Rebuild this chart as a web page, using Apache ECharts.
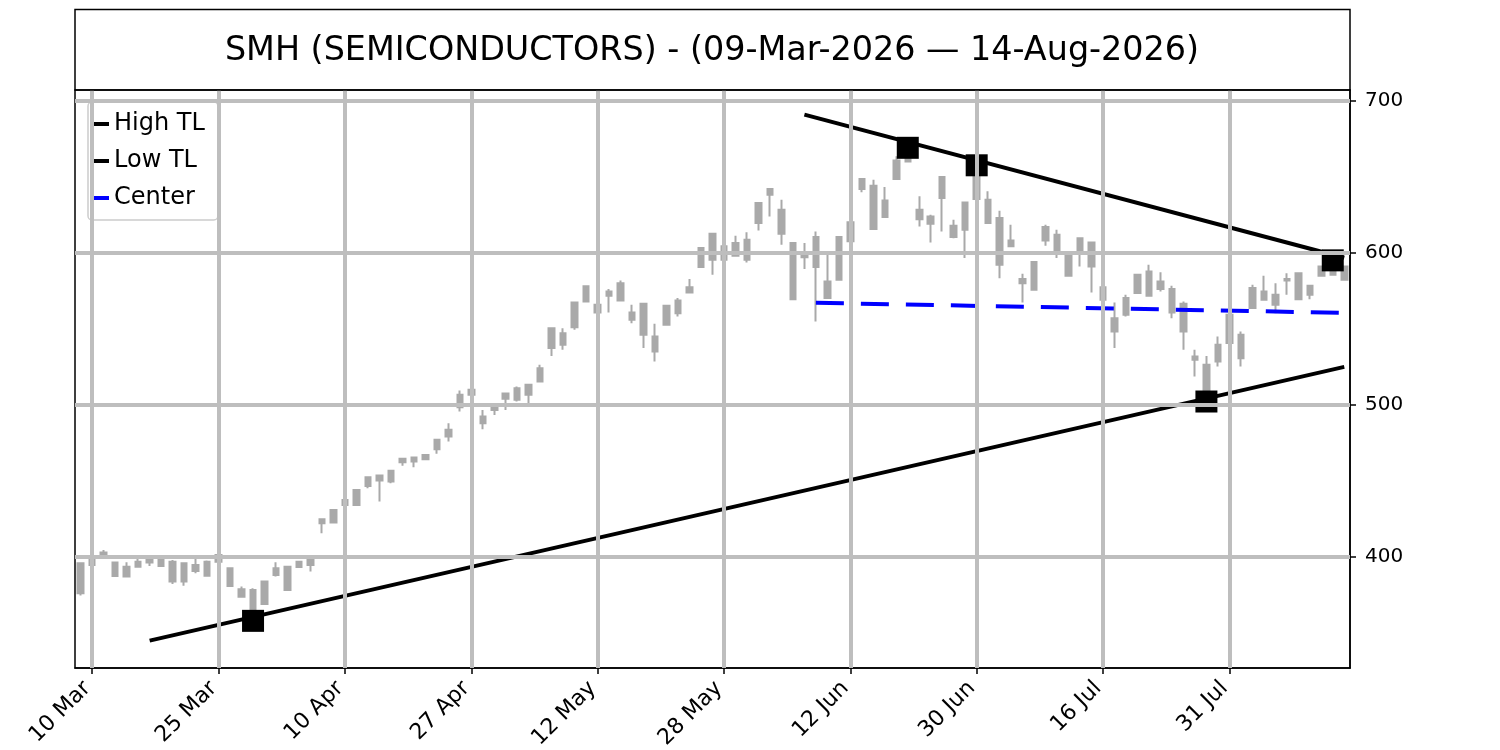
<!DOCTYPE html>
<html>
<head>
<meta charset="utf-8">
<script src="https://cdn.jsdelivr.net/npm/echarts@6/dist/echarts.min.js"></script>
<style>
html,body{margin:0;padding:0;background:#fff;}
#chart{width:1500px;height:750px;}
</style>
</head>
<body>
<div id="chart"></div>
<script>
// ---- data ----
const DATES = [
 '09 Mar','10 Mar','11 Mar','12 Mar','13 Mar','16 Mar','17 Mar','18 Mar','19 Mar','20 Mar','23 Mar','24 Mar','25 Mar','26 Mar','27 Mar','30 Mar','31 Mar',
 '01 Apr','02 Apr','06 Apr','07 Apr','08 Apr','09 Apr','10 Apr','13 Apr','14 Apr','15 Apr','16 Apr','17 Apr','20 Apr','21 Apr','22 Apr','23 Apr','24 Apr','27 Apr','28 Apr','29 Apr','30 Apr',
 '01 May','04 May','05 May','06 May','07 May','08 May','11 May','12 May','13 May','14 May','15 May','18 May','19 May','20 May','21 May','22 May','26 May','27 May','28 May','29 May',
 '01 Jun','02 Jun','03 Jun','04 Jun','05 Jun','08 Jun','09 Jun','10 Jun','11 Jun','12 Jun','15 Jun','16 Jun','17 Jun','18 Jun','22 Jun','23 Jun','24 Jun','25 Jun','26 Jun','29 Jun','30 Jun',
 '01 Jul','02 Jul','06 Jul','07 Jul','08 Jul','09 Jul','10 Jul','13 Jul','14 Jul','15 Jul','16 Jul','17 Jul','20 Jul','21 Jul','22 Jul','23 Jul','24 Jul','27 Jul','28 Jul','29 Jul','30 Jul','31 Jul',
 '03 Aug','04 Aug','05 Aug','06 Aug','07 Aug','10 Aug','11 Aug','12 Aug','13 Aug','14 Aug'
];
const OPEN = [
 395.8,394.7,399.8,396.3,387.1,393.6,398.5,394.1,396.9,383.8,394.7,387.7,396.9,392.5,378.7,378.3,369.1,388.2,378.3,393.4,
 394.7,422.1,422.6,434.2,434.2,452.4,453.5,449.6,464.5,465.4,464.3,470.8,479.2,498.5,506.6,492.3,496.7,504.0,503.3,506.6,
 515.4,537.3,547.1,551.1,568.0,565.8,571.7,568.6,560.7,566.4,545.0,552.6,560.3,573.9,590.6,612.5,595.4,598.0,608.6,619.5,
 638.2,628.3,606.4,597.1,590.6,581.1,582.2,607.5,641.9,644.1,623.5,648.5,660.0,628.3,619.1,636.0,617.8,615.1,635.3,634.9,
 622.8,604.2,582.7,575.7,608.1,611.8,599.1,600.2,606.8,577.4,557.0,559.2,573.5,571.7,581.1,576.1,566.4,531.8,526.3,528.5,
 540.6,546.1,563.6,569.1,572.4,581.8,569.5,578.3,584.9,585.5,591.0
];
const CLOSE = [
 376.1,398.5,402.9,387.5,393.6,396.9,396.3,398.5,383.8,395.8,390.8,396.9,401.3,380.9,373.9,365.1,383.8,392.5,393.6,396.9,
 400.2,424.8,430.9,437.5,444.1,446.7,450.2,456.6,462.3,462.7,467.1,477.0,483.6,506.6,509.9,487.9,500.0,507.5,511.0,513.2,
 524.1,550.4,539.5,567.3,577.9,560.7,574.6,580.0,555.9,546.1,535.1,565.1,568.6,577.4,603.1,595.4,604.2,606.4,595.4,632.7,
 641.9,612.5,569.5,599.8,610.3,570.2,610.3,620.0,648.5,615.6,634.4,660.7,666.0,622.1,623.9,649.8,610.3,633.1,650.2,619.5,
 592.1,608.1,580.0,593.9,616.9,600.9,584.9,609.6,591.0,569.1,548.2,570.2,585.5,587.7,576.1,560.7,548.2,529.6,507.7,539.5,
 559.2,530.7,576.8,574.6,565.8,582.7,586.6,572.4,591.0,589.9,582.2
];
const LOW = [
 374.6,394.0,399.1,387.0,386.8,393.2,394.1,393.8,382.2,381.1,389.3,387.5,396.5,380.5,373.2,358.0,368.6,387.1,378.0,393.0,
 390.4,415.6,422.3,434.0,433.8,445.2,436.4,448.5,459.9,459.0,464.0,467.8,475.9,495.6,506.3,484.0,493.4,496.7,502.2,501.1,
 514.7,532.2,536.2,549.3,567.3,542.8,560.7,568.0,553.7,537.3,528.5,552.3,558.1,573.5,589.9,585.5,587.7,597.7,593.6,614.7,
 623.9,605.3,569.2,589.3,554.8,569.9,581.9,603.0,639.7,615.3,623.2,648.2,659.5,617.3,606.8,614.0,609.6,596.5,635.0,619.2,
 583.3,603.9,567.3,575.4,604.6,596.5,584.6,591.0,573.9,568.0,537.3,558.1,573.2,571.4,574.6,557.0,536.2,518.6,502.4,525.2,
 535.1,525.2,563.3,568.8,560.3,572.4,569.2,569.5,584.6,585.2,582.0
];
const HIGH = [
 396.5,404.2,404.6,396.5,396.5,399.8,398.6,400.2,398.0,396.3,399.1,397.6,402.0,392.8,380.5,379.4,384.2,396.5,393.8,397.5,
 400.5,425.0,431.2,440.8,444.5,452.6,453.7,457.2,464.7,465.6,467.5,477.3,487.9,509.4,510.2,496.7,500.3,508.0,512.1,513.5,
 526.3,550.7,550.4,567.6,578.3,570.2,576.1,581.8,565.8,566.7,553.3,565.4,570.2,582.7,603.4,612.8,605.3,611.2,613.4,633.0,
 642.2,634.9,606.8,606.4,614.0,598.7,610.6,625.0,648.8,648.0,643.2,663.4,669.0,637.1,625.0,650.1,621.7,633.4,657.5,640.4,
 627.6,618.4,586.2,594.2,618.4,615.1,599.4,609.9,607.1,581.1,567.3,572.4,585.8,592.1,587.1,578.3,568.0,536.2,532.2,545.0,
 561.4,548.2,578.9,584.9,580.0,586.6,586.9,579.0,591.3,595.0,591.3
];
// trend lines: [dayIndex, price]
const HIGH_TL = [[63, 690.8], [110, 596.7]];
const LOW_TL = [[6, 345.0], [110, 525.0]];
const CENTER = [[64, 567.1], [110, 560.5]];
const HIGH_PIVOTS = [[72, 669.0], [78, 657.5], [109, 595.0]];
const LOW_PIVOTS = [[15, 358.0], [98, 502.2]];
const Y_TICKS = [400, 500, 600, 700];
const X_TICK_IDX = [1, 12, 23, 34, 45, 56, 67, 78, 89, 100];
const TITLE = 'SMH (SEMICONDUCTORS) - (09-Mar-2026 \u2014 14-Aug-2026)';

// ---- chart ----
const FONT = 'DejaVu Sans';
const candles = DATES.map((d, i) => [OPEN[i], CLOSE[i], LOW[i], HIGH[i]]);
const gridMarks = X_TICK_IDX.map(i => ({ xAxis: DATES[i] }))
  .concat(Y_TICKS.map(v => ({ yAxis: v })));
const tickShown = (idx) => X_TICK_IDX.indexOf(idx) >= 0;

const chart = echarts.init(document.getElementById('chart'), null, { renderer: 'canvas' });
chart.setOption({
  animation: false,
  backgroundColor: '#fff',
  graphic: [{
    type: 'rect', shape: { x: 75, y: 9.5, width: 1275, height: 80.5 },
    style: { fill: 'none', stroke: '#000', lineWidth: 1.5 }, silent: true, z: 10
  }, {
    type: 'text', x: 712, y: 51, silent: true, z: 10,
    style: {
      text: TITLE, fill: '#000', font: '33.4px "DejaVu Sans"',
      textAlign: 'center', textVerticalAlign: 'middle', align: 'center', verticalAlign: 'middle'
    }
  }],
  legend: {
    orient: 'vertical', left: 88, top: 102,
    data: [
      { name: 'High TL', icon: 'rect' },
      { name: 'Low TL', icon: 'rect' },
      { name: 'Center', icon: 'rect' }
    ],
    itemWidth: 16, itemHeight: 4, itemGap: 13,
    padding: [10, 13, 10, 5],
    backgroundColor: 'rgba(255,255,255,0.8)',
    borderColor: '#cccccc', borderWidth: 1.5, borderRadius: 4,
    textStyle: { fontFamily: FONT, fontSize: 24, color: '#000', lineHeight: 24 },
    selectedMode: false
  },
  grid: {
    left: 75, right: 150, top: 90, bottom: 82,
    containLabel: false, outerBoundsMode: 'none',
    show: true, borderColor: '#000', borderWidth: 1.5, backgroundColor: 'transparent'
  },
  xAxis: {
    type: 'category', data: DATES, boundaryGap: true,
    axisLine: { show: true, lineStyle: { color: '#000', width: 1.5 } },
    axisTick: { show: true, alignWithLabel: true, interval: tickShown, length: 6, lineStyle: { color: '#000', width: 1.5 } },
    axisLabel: { interval: tickShown, rotate: 45, margin: 12, padding: [0, 7, 0, 0], fontFamily: FONT, fontSize: 22, color: '#000' },
    splitLine: { show: false }
  },
  yAxis: {
    type: 'value', position: 'right', min: 327, max: 707,
    axisLine: { show: true, lineStyle: { color: '#000', width: 1.5 } },
    axisTick: { show: true, length: 6, customValues: Y_TICKS, lineStyle: { color: '#000', width: 1.5 } },
    axisLabel: { customValues: Y_TICKS, margin: 15, fontFamily: FONT, fontSize: 20, color: '#000' },
    splitLine: { show: false }
  },
  series: [
    {
      name: '_grid', type: 'line', data: [], z: 1, silent: true,
      markLine: {
        silent: true, symbol: ['none', 'none'], label: { show: false },
        lineStyle: { color: '#bebebe', width: 4, type: 'solid', opacity: 1 },
        emphasis: { disabled: true },
        data: gridMarks
      }
    },
    {
      name: 'SMH', type: 'candlestick', data: candles, z: 2, barWidth: 6,
      itemStyle: { color: '#a9a9a9', color0: '#a9a9a9', borderColor: '#a9a9a9', borderColor0: '#a9a9a9', borderWidth: 2 }
    },
    {
      name: 'High TL', type: 'line', data: HIGH_TL, z: 3, symbol: 'none', color: '#000',
      lineStyle: { color: '#000', width: 4 }
    },
    {
      name: 'Low TL', type: 'line', data: LOW_TL, z: 3, symbol: 'none', color: '#000',
      lineStyle: { color: '#000', width: 4 }
    },
    {
      name: 'Center', type: 'line', data: CENTER, z: 3, symbol: 'none', color: '#0000ff',
      lineStyle: { color: '#0000ff', width: 4, type: [28, 17] }
    },
    {
      name: '_highPivots', type: 'scatter', data: HIGH_PIVOTS, z: 4, symbol: 'rect', symbolSize: 22,
      itemStyle: { color: '#000', opacity: 1 }
    },
    {
      name: '_lowPivots', type: 'scatter', data: LOW_PIVOTS, z: 4, symbol: 'rect', symbolSize: 22,
      itemStyle: { color: '#000', opacity: 1 }
    }
  ]
});
</script>
</body>
</html>
